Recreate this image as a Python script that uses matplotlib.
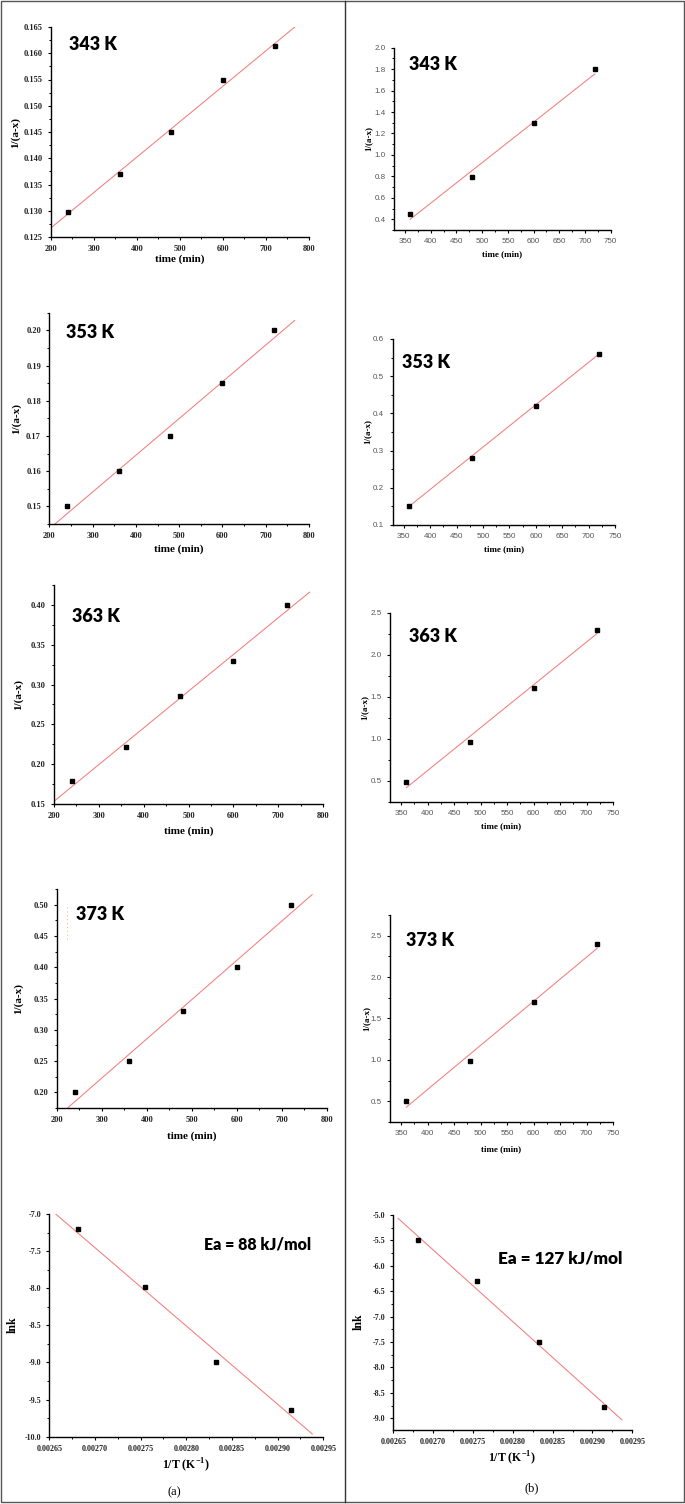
import numpy as np
import matplotlib
matplotlib.use('Agg')
from matplotlib import pyplot as plt
from matplotlib.ticker import MultipleLocator, FormatStrFormatter
from matplotlib.lines import Line2D
from matplotlib.patches import Rectangle

W, H = 685, 1504

# ---- data ----
time_a = [240, 360, 480, 600, 720]
time_b = [360, 480, 600, 720]

inv_343a = [0.1298, 0.1370, 0.1450, 0.1550, 0.1613]
inv_353a = [0.150, 0.160, 0.170, 0.185, 0.200]
inv_363a = [0.1795, 0.2220, 0.2855, 0.3300, 0.400]
inv_373a = [0.200, 0.250, 0.330, 0.400, 0.500]

inv_343b = [0.45, 0.79, 1.30, 1.80]
inv_353b = [0.15, 0.28, 0.42, 0.56]
inv_363b = [0.48, 0.96, 1.60, 2.30]
inv_373b = [0.50, 0.99, 1.70, 2.40]

# fitted lines (end points as drawn)
fit_343a = ([200, 767], [0.1267, 0.1650])
fit_353a = ([213, 767], [0.1450, 0.2028])
fit_363a = ([200, 770], [0.1534, 0.4160])
fit_373a = ([224, 767], [0.1750, 0.5160])
fit_343b = ([360, 719], [0.400, 1.755])
fit_353b = ([360, 720], [0.150, 0.560])
fit_363b = ([360, 720], [0.417, 2.253])
fit_373b = ([360, 720], [0.430, 2.347])

inv_T = [0.002681, 0.002755, 0.002833, 0.002915]
lnk_a = [-7.20, -7.99, -8.99, -9.64]
lnk_b = [-5.50, -6.30, -7.50, -8.77]
fit_lnk_a = ([0.002657, 0.002938], [-7.00, -9.964])
fit_lnk_b = ([0.002656, 0.002937], [-5.066, -9.03])

temps = ['343 K', '353 K', '363 K', '373 K']

SERIF = 'Liberation Serif'
SANS = 'Liberation Sans'
BOLD = 'Lato'
RED = '#f27d7d'

fig = plt.figure(figsize=(W / 100, H / 100), dpi=100)


def fx(x):
    return x / W


def fy(y):
    return 1 - y / H


def make_ax(x0, x1, y0, y1):
    ax = fig.add_axes([fx(x0), fy(y1), fx(x1 - x0), (y1 - y0) / H])
    for s in ['top', 'right']:
        ax.spines[s].set_visible(False)
    for s in ['left', 'bottom']:
        ax.spines[s].set_linewidth(1.0)
    ax.tick_params(which='major', direction='out', length=2.5, width=0.8)
    ax.tick_params(which='minor', direction='out', length=1.5, width=0.7)
    return ax


def style_ticks(ax, serif, size):
    for lab in ax.get_xticklabels() + ax.get_yticklabels():
        if serif:
            lab.set_fontfamily(SERIF)
            lab.set_fontweight('bold')
            lab.set_color('#222222')
        else:
            lab.set_fontfamily(SANS)
            lab.set_color('#555555')
        lab.set_fontsize(size)


def labels(ax, xl, yl, xlpos, ylpos, size):
    ax.set_xlabel(xl, fontfamily=SERIF, fontweight='bold', fontsize=size, va='center')
    ax.set_ylabel(yl, fontfamily=SERIF, fontweight='bold', fontsize=size, va='center')
    ax.xaxis.set_label_coords(fx(xlpos[0]), fy(xlpos[1]), transform=fig.transFigure)
    ax.yaxis.set_label_coords(fx(ylpos[0]), fy(ylpos[1]), transform=fig.transFigure)


def draw(ax, x, y, fit):
    ax.plot(fit[0], fit[1], color=RED, lw=0.75, zorder=2)
    ax.plot(x, y, 's', color='black', ms=3.2, zorder=3)


def tag(text, x, y, size):
    fig.text(fx(x), fy(y), text, fontfamily=BOLD, fontweight='heavy',
             fontsize=size, ha='left', va='center')


# ---------- column (a) ----------
a_specs = [
    # x0, x1, y0, y1, ylim, ystep, fmt, data, fit, xlab_y, ylab_x, tag pos
    (50.7, 309, 27, 237, (0.125, 0.165), 0.005, '%.3f', inv_343a, fit_343a, 259, 15, (69, 44)),
    (49.3, 309, 312.7, 524, (0.145, 0.205), 0.01, '%.2f', inv_353a, fit_353a, 549, 16, (66, 333)),
    (54, 323, 585, 804, (0.15, 0.425), 0.05, '%.2f', inv_363a, fit_363a, 831, 18, (71.7, 617)),
    (56.7, 327, 889, 1108, (0.175, 0.525), 0.05, '%.2f', inv_373a, fit_373a, 1136, 18, (76, 915)),
]
for i, (x0, x1, y0, y1, yl, ys, fmt, vals, fit, xly, ylx, tp) in enumerate(a_specs):
    ax = make_ax(x0, x1, y0, y1)
    draw(ax, time_a, vals, fit)
    ax.set_xlim(200, 800)
    ax.set_ylim(*yl)
    ax.xaxis.set_major_locator(MultipleLocator(100))
    ax.xaxis.set_minor_locator(MultipleLocator(50))
    ax.yaxis.set_major_locator(MultipleLocator(ys))
    ax.yaxis.set_minor_locator(MultipleLocator(ys / 2))
    ax.yaxis.set_major_formatter(FormatStrFormatter(fmt))
    if i == 3:
        ax.set_yticks(np.arange(0.20, 0.51, 0.05))
    style_ticks(ax, True, 6)
    labels(ax, 'time (min)', '1/(a-x)', ((x0 + x1) / 2, xly), (ylx, (y0 + y1) / 2), 8)
    tag(temps[i], tp[0], tp[1], 13)

# stray dotted mark in the 373 K panel
fig.add_artist(Line2D([fx(66.7), fx(66.7)], [fy(907), fy(942)], transform=fig.transFigure,
                      color='#e0b080', lw=0.7, ls=(0, (1, 3))))

# ---------- column (b) ----------
b_specs = [
    (394.3, 610.7, 47.7, 230, (0.3, 2.0), 0.2, inv_343b, fit_343b, 254, 368, (409, 65)),
    (392.7, 615, 339, 525, (0.1, 0.6), 0.1, inv_353b, fit_353b, 549, 367, (402, 363)),
    (390, 613, 612.7, 801.7, (0.25, 2.5), 0.5, inv_363b, fit_363b, 826, 364, (409, 636)),
    (390, 613, 915, 1122, (0.25, 2.75), 0.5, inv_373b, fit_373b, 1149, 366, (406, 941)),
]
for i, (x0, x1, y0, y1, yl, ys, vals, fit, xly, ylx, tp) in enumerate(b_specs):
    ax = make_ax(x0, x1, y0, y1)
    draw(ax, time_b, vals, fit)
    ax.set_xlim(329, 750)
    ax.set_ylim(*yl)
    ax.xaxis.set_major_locator(MultipleLocator(50))
    ax.xaxis.set_minor_locator(MultipleLocator(25))
    ax.yaxis.set_major_locator(MultipleLocator(ys))
    ax.yaxis.set_minor_locator(MultipleLocator(ys / 2))
    ax.yaxis.set_major_formatter(FormatStrFormatter('%.1f'))
    if i == 3:
        ax.set_yticks(np.arange(0.5, 2.51, 0.5))
    style_ticks(ax, False, 5.8)
    labels(ax, 'time (min)', '1/(a-x)', ((x0 + x1) / 2, xly), (ylx, (y0 + y1) / 2), 6.5)
    tag(temps[i], tp[0], tp[1], 13)

# ---------- Arrhenius plots ----------
ax = make_ax(49.3, 323.3, 1214, 1436.7)
draw(ax, inv_T, lnk_a, fit_lnk_a)
ax.set_xlim(0.00265, 0.00295)
ax.set_ylim(-10.0, -7.0)
ax.xaxis.set_major_locator(MultipleLocator(0.00005))
ax.xaxis.set_minor_locator(MultipleLocator(0.000025))
ax.xaxis.set_major_formatter(FormatStrFormatter('%.5f'))
ax.yaxis.set_major_locator(MultipleLocator(0.5))
ax.yaxis.set_minor_locator(MultipleLocator(0.25))
ax.yaxis.set_major_formatter(FormatStrFormatter('%.1f'))
style_ticks(ax, True, 5.8)
labels(ax, '1/T (K$^{\\mathregular{-1}}$)', 'lnk', (186, 1465), (13, 1325), 8.5)
tag('Ea = 88 kJ/mol', 204, 1245, 11.5)

ax = make_ax(393.3, 632.3, 1215, 1430)
draw(ax, inv_T, lnk_b, fit_lnk_b)
ax.set_xlim(0.00265, 0.00295)
ax.set_ylim(-9.23, -5.0)
ax.xaxis.set_major_locator(MultipleLocator(0.00005))
ax.xaxis.set_minor_locator(MultipleLocator(0.000025))
ax.xaxis.set_major_formatter(FormatStrFormatter('%.5f'))
ax.yaxis.set_major_locator(MultipleLocator(0.5))
ax.yaxis.set_minor_locator(MultipleLocator(0.25))
ax.yaxis.set_major_formatter(FormatStrFormatter('%.1f'))
style_ticks(ax, True, 5.8)
labels(ax, '1/T (K$^{\\mathregular{-1}}$)', 'lnk', (512, 1458), (359, 1322), 8.5)
tag('Ea = 127 kJ/mol', 498, 1258, 12.3)

fig.text(fx(174), fy(1492), '(a)', fontfamily=SERIF, fontsize=9, ha='center', va='center')
fig.text(fx(532), fy(1488), '(b)', fontfamily=SERIF, fontsize=9, ha='center', va='center')

# frame and divider
fig.add_artist(Rectangle((fx(1), fy(1502)), fx(683), (1501) / H, transform=fig.transFigure,
                         fill=False, edgecolor='#555555', lw=1.0))
fig.add_artist(Line2D([fx(344.5), fx(344.5)], [fy(1), fy(1502)], transform=fig.transFigure,
                      color='#333333', lw=1.0))

fig.savefig('out.png', dpi=100)
